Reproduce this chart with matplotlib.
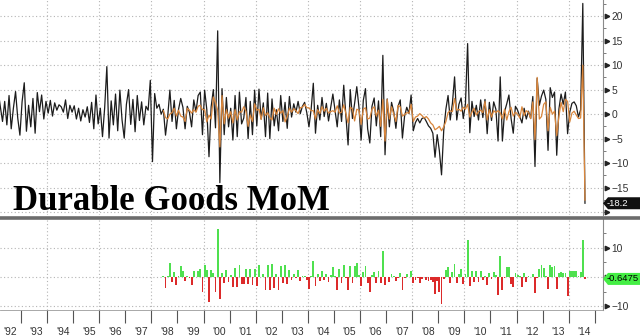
import numpy as np
import matplotlib
matplotlib.use("Agg")
import matplotlib.pyplot as plt
from matplotlib.lines import Line2D
from matplotlib.patches import Polygon
from matplotlib.ticker import MultipleLocator, FixedLocator, FixedFormatter, NullFormatter

# Durable goods orders, % change month over month, Feb 1992 .. Aug 2014
durable_mom = [
    4.7, 1.5, -1.5, 2.6, -2.2, 3.8, -3.0, 1.2, 4.6, -0.8, -4.3,              # 1992
    2.5, 6.4, -3.5, 1.8, -2.6, 3.2, -3.9, 4.4, 0.5, 3.9, -1.0, 2.6,          # 1993
    0.2, 2.8, -0.4, 2.3, 0.8, 1.9, 1.5, 0.4, 2.9, -0.9, 1.8, 0.4,            # 1994
    1.7, -1.0, 1.2, -1.4, 0.9, -0.6, 1.5, -1.7, 2.4, -3.0, 3.9, -2.0,        # 1995
    1.2, -4.6, 1.3, 9.7, -4.9, 2.7, -2.2, 4.1, -3.4, 4.9, -1.2, -4.9,        # 1996
    2.0, 5.0, -2.1, 3.0, -3.6, 3.8, -1.3, 2.5, -2.2, 1.6, 0.8, 6.9,          # 1997
    -9.7, 4.2, 1.2, 2.0, 0.0, 1.0, -4.3, -0.5, 4.9, -1.5, 2.8, -3.0,         # 1998
    1.0, 3.2, 1.4, -3.0, 1.6, 0.4, -2.6, 2.9, 0.5, 3.8, 4.5, -4.2,           # 1999
    4.9, 0.9, -8.7, 1.5, 5.0, -2.8, 17.0, -14.0, 5.2, -4.2, 3.4, -2.6,       # 2000
    1.2, -5.3, 3.8, -4.6, 4.5, -2.0, -0.8, 3.4, -5.0, 2.6, -4.2, 4.9,        # 2001
    -2.4, 5.1, -1.0, 2.3, -4.6, 4.3, -5.0, 3.1, -2.4, 0.9, -3.4, 3.8,        # 2002
    -1.5, 2.4, -2.9, 3.6, -0.6, 2.1, 0.4, 2.6, 0.1, 1.6, 2.4, 0.3,           # 2003
    -2.6, 1.0, 6.3, -3.9, 1.8, -1.2, 3.4, -0.5, 2.2, -1.4, 1.3, 4.1,         # 2004
    0.8, -2.6, 2.9, -1.5, 5.9, -0.4, -6.3, 5.0, -0.9, 2.2, 5.6, 1.4,         # 2005
    -5.3, 2.8, 5.2, -3.0, -5.9, 1.6, 3.3, -2.4, 2.7, -4.6, 12.0, -8.3,       # 2006
    3.1, -2.6, 2.4, 0.5, -2.9, 1.6, 2.9, -4.9, -0.4, 1.4, 0.1, 3.9,          # 2007
    -3.4, -1.7, -0.9, -1.8, -0.9, -0.7, -1.5, -2.4, -2.9, -3.9, -8.8, -4.2,  # 2008
    -7.5, -12.4, -3.4, 1.0, 3.8, -1.2, 2.2, 7.6, -1.2, 2.0, 3.3, -0.9,       # 2009
    2.1, 14.4, -3.8, 2.6, -0.5, 1.8, -1.2, 2.9, -0.7, 3.0, -4.0, 2.4,        # 2010
    -1.3, 2.5, 1.0, -5.5, 7.6, -5.5, 0.5, 2.1, 3.9, -0.9, -3.9, 1.6,         # 2011
    0.8, -0.5, -1.8, 1.2, -1.0, 0.6, -0.9, 3.6, -10.7, 7.3, 1.8, 3.7,        # 2012
    4.9, 3.0, -7.4, 5.4, 3.4, 4.5, -8.4, 1.0, 4.1, 2.0, 4.5, -4.0,           # 2013
    0.4, 2.2, 2.5, 1.7, -0.6, 0.9, 22.6, -18.2,                              # 2014
]

# survey median for the same release, Jun 1998 .. Aug 2014
survey_mom = [
    0.7, -0.7, -1.0, 0.0, 0.3, 1.2, -0.4,                                    # 1998
    0.8, -0.4, -0.6, -1.5, 1.2, 0.8, 0.2, 0.9, 0.4, 1.6, 1.8, 0.9,           # 1999
    0.9, -1.6, -0.2, -1.0, 3.5, 2.4, 0.8, -6.7, 3.8, -2.0, 0.9, -0.8,        # 2000
    0.5, -1.8, 0.9, -1.2, 0.5, 0.4, 1.5, 0.6, -2.5, -0.2, -1.5, 2.1,         # 2001
    0.8, 1.0, -1.1, 1.3, -0.3, 0.3, -0.7, -1.2, 1.2, -0.1, 1.1, 0.2,         # 2002
    0.7, -1.6, -0.5, 1.2, 0.4, 1.1, 0.7, 0.1, 1.3, 1.4, 2.0, 1.3,            # 2003
    1.3, 0.7, 0.7, -1.0, 0.9, 0.1, 1.5, 0.6, 1.2, 0.2, 0.5, 0.7,             # 2004
    0.4, 1.7, 0.2, 0.4, 1.9, 0.1, -1.8, 1.4, 1.1, -1.4, 1.0, 0.8,            # 2005
    -2.1, 1.0, 1.3, -1.0, -0.8, 1.0, 1.5, -0.4, 0.8, -2.5, 3.0, -5.5,        # 2006
    3.0, -1.0, 1.5, 0.0, -1.5, 1.8, 1.5, -0.4, -0.1, 0.3, 0.2, 2.0,          # 2007
    -1.5, -0.6, -0.4, 0.1, -0.3, -0.8, -0.5, -1.0, -1.8, -2.2, -3.2, -2.9,   # 2008
    -2.5, -3.4, -2.6, -1.5, 0.3, 0.7, 0.5, 3.2, 0.8, 1.0, 0.6, 1.4,          # 2009
    1.0, 2.0, -0.6, 0.4, 1.2, -0.2, 0.5, 0.8, 0.3, 2.6, -1.2, 0.9,           # 2010
    -0.6, 0.7, 0.3, 0.7, 0.3, -1.0, 1.0, -1.2, 0.5, 1.4, -0.4, 0.4,          # 2011
    0.0, -0.8, 1.5, -0.3, 0.7, 0.4, -0.9, 2.5, -5.2, 7.5, -1.0, -0.5,        # 2012
    2.0, 2.5, -3.4, 1.4, 0.0, 0.6, -4.4, -0.5, 2.4, 0.5, 3.0, 2.6,           # 2013
    -1.6, 0.2, 0.6, -0.2, -0.9, -0.8, 10.0, -17.5525,                        # 2014
]

year_labels = ["'92", "'93", "'94", "'95", "'96", "'97", "'98", "'99", "'00",
               "'01", "'02", "'03", "'04", "'05", "'06", "'07", "'08", "'09",
               "'10", "'11", "'12", "'13", "'14"]


def month_axis(start_year, start_month, n):
    # mid-month position expressed in fractional years
    idx = np.arange(n) + (start_month - 1)
    return start_year + (idx + 0.5) / 12.0


actual = np.array(durable_mom)
survey = np.array(survey_mom)
t_act = month_axis(1992, 2, len(actual))
t_srv = month_axis(1998, 6, len(survey))
surprise = actual[-len(survey):] - survey

W, H = 640, 336
fig = plt.figure(figsize=(W / 100, H / 100), dpi=100)
fig.patch.set_facecolor("white")

ax1 = fig.add_axes([0, 1 - 215 / H, 603 / W, 215 / H])
ax2 = fig.add_axes([0, 1 - 310 / H, 603 / W, 91 / H])

xlo, xhi = 1992.195, 2015.316
grid_kw = dict(color="#b4b4b4", lw=0.8, ls=(0, (1, 2.2)), zorder=0)
tri_kw = dict(linestyle="none", marker=">", ms=3.2, color="#222222", clip_on=False)
tick_font = dict(family="Liberation Sans", size=7.4)

for ax in (ax1, ax2):
    ax.set_xlim(xlo, xhi)
    for s in ("top", "left"):
        ax.spines[s].set_visible(False)
    ax.spines["right"].set_color("#8a8a8a")
    ax.spines["right"].set_linewidth(0.8)
    ax.yaxis.tick_right()
    ax.tick_params(axis="y", which="major", length=0, pad=6, labelcolor="#333333")
    ax.tick_params(axis="y", which="minor", length=2, width=0.6, color="#666666")
    for yr in range(1994, 2015, 2):
        ax.axvline(yr, **grid_kw)

# ---- top panel: actual vs survey
ax1.set_ylim(-20.6, 23.3)
ax1.spines["bottom"].set_visible(False)
ax1.set_xticks([])
ax1.set_yticks(np.arange(-15, 21, 5))
ax1.yaxis.set_minor_locator(MultipleLocator(2.5))
for v in range(-20, 21, 5):
    ax1.axhline(v, **grid_kw)
tri1 = np.arange(-20, 21, 5)
ax1.plot(np.full(len(tri1), 1.006), tri1, transform=ax1.get_yaxis_transform(), **tri_kw)

ax1.plot(t_act, actual, color="#1c1c1c", lw=0.9, zorder=3)
ax1.plot(t_srv, survey, color="#d9863c", lw=0.9, zorder=4)

# ---- bottom panel: surprise (actual - survey)
ax2.set_ylim(-11.2, 19.7)
ax2.spines["bottom"].set_color("#9a9a9a")
ax2.spines["bottom"].set_linewidth(0.6)
ax2.set_yticks([-10, 10])
ax2.yaxis.set_minor_locator(FixedLocator([-5, 5, 15]))
ax2.yaxis.set_minor_formatter(NullFormatter())
for v in (-10, 0, 10):
    ax2.axhline(v, **grid_kw)
tri2 = np.array([-10, 0, 10])
ax2.plot(np.full(len(tri2), 1.006), tri2, transform=ax2.get_yaxis_transform(), **tri_kw)

colors = np.where(surprise >= 0, "#4fe04f", "#dc2a2a")
ax2.bar(t_srv, surprise, width=0.07, color=colors, linewidth=0, zorder=3)

ax2.set_xticks(np.arange(1993, 2016))
ax2.xaxis.set_major_formatter(NullFormatter())
ax2.xaxis.set_minor_locator(FixedLocator(np.arange(1992, 2015) + 0.6))
ax2.xaxis.set_minor_formatter(FixedFormatter(year_labels))
ax2.tick_params(axis="x", which="major", length=9, width=0.8, color="#555555",
                direction="out")
ax2.tick_params(axis="x", which="minor", length=0, pad=12, labelcolor="#333333")

for lab in ax1.get_yticklabels() + ax2.get_yticklabels() + ax2.get_xticklabels(minor=True):
    lab.set_fontproperties(tick_font)
    lab.set_fontsize(tick_font["size"])

# separator between the panels
fig.add_artist(Line2D([0, 1], [1 - 217.5 / H] * 2, transform=fig.transFigure,
                      color="#6c6c6c", lw=2.6))

fig.text(13 / W, 1 - 210 / H, "Durable Goods MoM", family="Liberation Serif",
         weight="bold", size=25, va="baseline", color="black")


def value_tag(ax, value, text, face, txtcolor):
    # pennant-shaped last-value tag on the right axis
    yc = ax.transData.transform((0, value))[1]
    x0, x1, x2 = 603, 608, W
    pts = [(x0, yc), (x1, yc + 6), (x2, yc + 6), (x2, yc - 6), (x1, yc - 6)]
    pts = [(px / W, py / H) for px, py in pts]
    fig.add_artist(Polygon(pts, closed=True, transform=fig.transFigure,
                           facecolor=face, edgecolor="none", zorder=5))
    fig.text(607 / W, yc / H, text, color=txtcolor, family="Liberation Sans",
             size=6.8, va="center", ha="left", zorder=6)


value_tag(ax1, actual[-1], f"{actual[-1]:.1f}", "#111111", "white")
value_tag(ax2, surprise[-1], f"{surprise[-1]:.4f}", "#44ee44", "black")

fig.savefig("out.png", dpi=100, facecolor="white")
